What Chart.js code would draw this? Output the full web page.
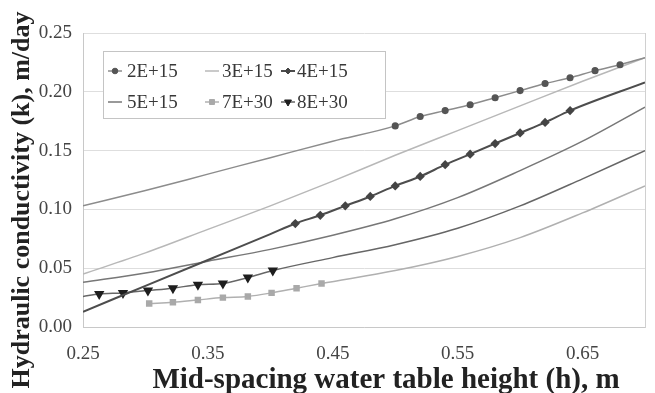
<!DOCTYPE html>
<html>
<head>
<meta charset="utf-8">
<script src="https://cdn.jsdelivr.net/npm/chart.js@4.4.1/dist/chart.umd.min.js"></script>
<style>
  html, body { margin: 0; padding: 0; background: #fff; }
  #wrap { position: relative; width: 655px; height: 393px; }
</style>
</head>
<body>
<div id="wrap"><canvas id="kChart" width="655" height="393"></canvas></div>
<script>
// h = mid-spacing water table height (m), k = hydraulic conductivity (m/day)
const labels = ["2E+15", "3E+15", "4E+15", "5E+15", "7E+30", "8E+30"];
const xTicks = [0.25, 0.35, 0.45, 0.55, 0.65];
const xTitle = "Mid-spacing water table height (h), m";
const yTitle = "Hydraulic conductivity (k), m/day";

// curve points (no marker)
const h2e15 = [0.25, 0.30, 0.35, 0.40, 0.45, 0.70];
const k2e15 = [0.103, 0.116, 0.130, 0.144, 0.158, 0.229];
const h3e15 = [0.25, 0.30, 0.35, 0.40, 0.45, 0.50, 0.55, 0.60, 0.65, 0.70];
const k3e15 = [0.045, 0.063, 0.083, 0.103, 0.124, 0.146, 0.167, 0.188, 0.209, 0.229];
const h4e15 = [0.25, 0.30, 0.35, 0.40, 0.70];
const k4e15 = [0.013, 0.035, 0.057, 0.079, 0.208];
const h5e15 = [0.25, 0.30, 0.35, 0.40, 0.45, 0.50, 0.55, 0.60, 0.65, 0.70];
const k5e15 = [0.038, 0.046, 0.056, 0.066, 0.078, 0.092, 0.110, 0.133, 0.158, 0.187];
const h7e30 = [0.50, 0.55, 0.60, 0.65, 0.70];
const k7e30 = [0.048, 0.060, 0.076, 0.097, 0.120];
const h8e30 = [0.25, 0.45, 0.50, 0.55, 0.60, 0.65, 0.70];
const k8e30 = [0.026, 0.059, 0.070, 0.084, 0.103, 0.126, 0.150];

// marked points
const h2e15Pts = [0.50, 0.52, 0.54, 0.56, 0.58, 0.60, 0.62, 0.64, 0.66, 0.68];
const k2e15Pts = [0.171, 0.179, 0.184, 0.189, 0.195, 0.201, 0.207, 0.212, 0.218, 0.223];
const h4e15Pts = [0.42, 0.44, 0.46, 0.48, 0.50, 0.52, 0.54, 0.56, 0.58, 0.60, 0.62, 0.64];
const k4e15Pts = [0.088, 0.095, 0.103, 0.111, 0.120, 0.128, 0.138, 0.147, 0.156, 0.165, 0.174, 0.184];
const h7e30Pts = [0.303, 0.322, 0.342, 0.362, 0.382, 0.401, 0.421, 0.441];
const k7e30Pts = [0.020, 0.021, 0.023, 0.025, 0.026, 0.029, 0.033, 0.037];
const h8e30Pts = [0.263, 0.282, 0.302, 0.322, 0.342, 0.362, 0.382, 0.402];
const k8e30Pts = [0.028, 0.029, 0.031, 0.033, 0.036, 0.037, 0.042, 0.048];

function series(lineH, lineK, markH, markK) {
  const pts = lineH.map((h, i) => ({ x: h, y: lineK[i], m: false }));
  markH.forEach((h, i) => pts.push({ x: h, y: markK[i], m: true }));
  return pts.sort((a, b) => a.x - b.x);
}

function markRadius(r) {
  return (ctx) => (ctx.raw && ctx.raw.m ? r : 0);
}

const SERIF = '"Liberation Serif", "Times New Roman", serif';

// legend drawn inside the plot, 3 x 2 grid like the original
const boxLegend = {
  id: "boxLegend",
  afterDatasetsDraw(chart) {
    const c = chart.ctx;
    const H = Chart.helpers;
    const cols = [115, 212, 288];
    const textX = [127, 222, 297];
    const rows = [71, 102];
    c.save();
    c.fillStyle = "#fff";
    c.fillRect(103, 51, 282, 67);
    c.strokeStyle = "#c4c4c4";
    c.lineWidth = 1;
    c.strokeRect(103.5, 51.5, 282, 67);
    c.font = "19px " + SERIF;
    c.textBaseline = "middle";
    c.textAlign = "left";
    chart.data.datasets.forEach((ds, i) => {
      const x = cols[i % 3];
      const y = rows[Math.floor(i / 3)];
      c.strokeStyle = ds.borderColor;
      c.lineWidth = ds.borderWidth;
      c.beginPath();
      c.moveTo(x - 7, y);
      c.lineTo(x + 7, y);
      c.stroke();
      if (ds.legendRadius) {
        c.fillStyle = ds.pointBackgroundColor;
        c.strokeStyle = ds.pointBorderColor;
        c.lineWidth = 1;
        H.drawPoint(c, {
          pointStyle: ds.pointStyle,
          rotation: ds.pointRotation || 0,
          radius: ds.legendRadius,
          borderWidth: 1
        }, x, y);
      }
      c.fillStyle = "#383838";
      c.fillText(ds.label, textX[i % 3], y + 1);
    });
    c.restore();
  }
};

const axisTitles = {
  id: "axisTitles",
  afterDraw(chart) {
    const c = chart.ctx;
    c.save();
    c.fillStyle = "#222";
    c.textAlign = "center";
    c.textBaseline = "alphabetic";
    c.font = "bold 29px " + SERIF;
    c.fillText(xTitle, 386, 388);
    c.translate(29, 200);
    c.rotate(-Math.PI / 2);
    c.font = "bold 26px " + SERIF;
    c.fillText(yTitle, 0, 0);
    c.restore();
  }
};

const tickFont = { family: SERIF, size: 19 };

new Chart(document.getElementById("kChart"), {
  type: "line",
  data: {
    datasets: [
      {
        label: labels[0],
        data: series(h2e15, k2e15, h2e15Pts, k2e15Pts),
        borderColor: "#8c8c8c",
        borderWidth: 1.5,
        pointStyle: "circle",
        pointRadius: markRadius(2.8),
        legendRadius: 2.8,
        pointBackgroundColor: "#555",
        pointBorderColor: "#555",
      },
      {
        label: labels[1],
        data: series(h3e15, k3e15, [], []),
        borderColor: "#b8b8b8",
        borderWidth: 1.5,
        pointRadius: 0,
      },
      {
        label: labels[2],
        data: series(h4e15, k4e15, h4e15Pts, k4e15Pts),
        borderColor: "#4d4d4d",
        borderWidth: 2,
        pointStyle: "rectRot",
        pointRadius: markRadius(3.2),
        legendRadius: 3,
        pointBackgroundColor: "#444",
        pointBorderColor: "#444",
      },
      {
        label: labels[3],
        data: series(h5e15, k5e15, [], []),
        borderColor: "#777",
        borderWidth: 1.5,
        pointRadius: 0,
      },
      {
        label: labels[4],
        data: series(h7e30, k7e30, h7e30Pts, k7e30Pts),
        borderColor: "#b0b0b0",
        borderWidth: 1.5,
        pointStyle: "rect",
        pointRadius: markRadius(3.5),
        legendRadius: 3.5,
        pointBackgroundColor: "#a9a9a9",
        pointBorderColor: "#a9a9a9",
      },
      {
        label: labels[5],
        data: series(h8e30, k8e30, h8e30Pts, k8e30Pts),
        borderColor: "#666",
        borderWidth: 1.5,
        pointStyle: "triangle",
        pointRotation: 180,
        pointRadius: markRadius(4.5),
        legendRadius: 4,
        pointBackgroundColor: "#1e1e1e",
        pointBorderColor: "#1e1e1e",
      },
    ],
  },
  options: {
    responsive: false,
    animation: false,
    devicePixelRatio: 1,
    cubicInterpolationMode: "monotone",
    layout: { padding: { top: 33, right: 10, bottom: 0, left: 0 } },
    plugins: {
      legend: { display: false },
      tooltip: { enabled: false },
    },
    scales: {
      x: {
        type: "linear",
        min: 0.25,
        max: 0.70,
        afterBuildTicks: (scale) => {
          scale.ticks = xTicks.map((v) => ({ value: v }));
        },
        afterFit: (scale) => { scale.height = 66; },
        grid: { display: false },
        border: { display: true, color: "#c8c8c8" },
        ticks: {
          font: tickFont,
          color: "#444",
          padding: 8,
          maxRotation: 0,
          callback: (v) => Number(v).toFixed(2),
        },
      },
      y: {
        min: 0,
        max: 0.25,
        afterFit: (scale) => { scale.width = 83; },
        grid: { color: "#dedede", drawTicks: false },
        border: { color: "#c8c8c8" },
        ticks: {
          stepSize: 0.05,
          font: tickFont,
          color: "#444",
          padding: 11,
          callback: (v) => Number(v).toFixed(2),
        },
      },
      yRight: {
        position: "right",
        min: 0,
        max: 0.25,
        afterFit: (scale) => { scale.width = 0; },
        grid: { display: false },
        ticks: { display: false },
        border: { color: "#d0d0d0" },
      },
    },
  },
  plugins: [boxLegend, axisTitles],
});
</script>
</body>
</html>
